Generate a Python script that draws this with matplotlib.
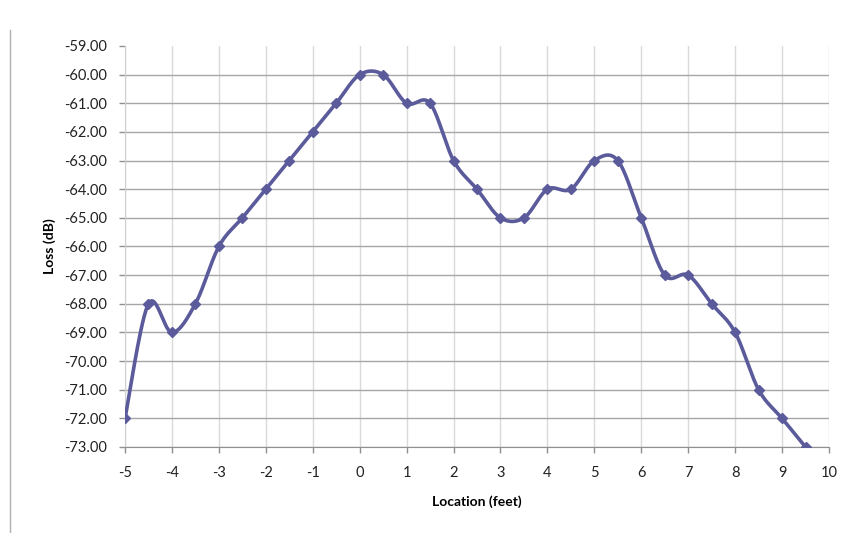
import numpy as np
import matplotlib
matplotlib.use("Agg")
import matplotlib.pyplot as plt
from matplotlib.lines import Line2D

plt.rcParams['font.family'] = ['Lato', 'DejaVu Sans']
plt.rcParams['axes.unicode_minus'] = False

# Datos
ubicacion = [-5, -4.5, -4, -3.5, -3, -2.5, -2, -1.5, -1, -0.5, 0, 0.5, 1, 1.5, 2,
             2.5, 3, 3.5, 4, 4.5, 5, 5.5, 6, 6.5, 7, 7.5, 8, 8.5, 9, 9.5]
perdida = [-72, -68, -69, -68, -66, -65, -64, -63, -62, -61, -60, -60, -61, -61, -63,
           -64, -65, -65, -64, -64, -63, -63, -65, -67, -67, -68, -69, -71, -72, -73]
xticks = list(range(-5, 11))
yticks = list(range(-73, -58))

color = '#5b5b9c'


def suavizar(x, y, n=30):
    # curva tipo Excel (Bezier con puntos de control Catmull-Rom)
    p = np.column_stack([x, y]).astype(float)
    ext = np.vstack([p[0], p, p[-1]])
    t = np.linspace(0, 1, n)[:, None]
    out = []
    for i in range(len(p) - 1):
        p0, p3 = ext[i + 1], ext[i + 2]
        p1 = p0 + (ext[i + 2] - ext[i]) / 6
        p2 = p3 - (ext[i + 3] - ext[i + 1]) / 6
        seg = ((1 - t) ** 3) * p0 + 3 * ((1 - t) ** 2) * t * p1 + 3 * (1 - t) * t ** 2 * p2 + t ** 3 * p3
        out.append(seg)
    c = np.vstack(out)
    return c[:, 0], c[:, 1]


fig = plt.figure(figsize=(8.42, 5.33), dpi=100)
ax = fig.add_axes([125 / 842, 1 - 447 / 533, (829 - 125) / 842, (447 - 46) / 533])

xs, ys = suavizar(ubicacion, perdida)
ax.plot(xs, ys, color=color, linewidth=2.6, solid_capstyle='round', zorder=3)
ax.plot(ubicacion, perdida, linestyle='none', marker='D', markersize=5,
        color=color, zorder=4)

ax.set_xlim(-5, 10)
ax.set_ylim(-73, -59)
ax.set_xticks(xticks)
ax.set_yticks(yticks)
ax.set_yticklabels([f'{v:.2f}' for v in yticks])

for v in xticks:
    ax.axvline(v, color='#d9d9d9', linewidth=1, zorder=1)
for v in yticks[:-1]:
    ax.axhline(v, color='#a6a6a6', linewidth=1, zorder=1)

for s in ['top', 'right']:
    ax.spines[s].set_visible(False)
ax.spines['left'].set_color('#d0d0d0')
ax.spines['bottom'].set_color('#909090')
ax.tick_params(axis='both', colors='#909090', labelcolor='#222222', labelsize=10.5,
               length=4, width=1)
ax.tick_params(axis='x', pad=10)
ax.tick_params(axis='y', pad=9)

ax.set_xlabel('Location (feet)', fontsize=10, fontweight='bold', labelpad=11)
ax.set_ylabel('Loss (dB)', fontsize=10, fontweight='bold', labelpad=6)

# borde de la página a la izquierda
fig.add_artist(Line2D([10 / 842, 10 / 842], [1 - 30 / 533, 0], color='#b0b0b0', linewidth=1))

fig.savefig('out.png', dpi=100)
